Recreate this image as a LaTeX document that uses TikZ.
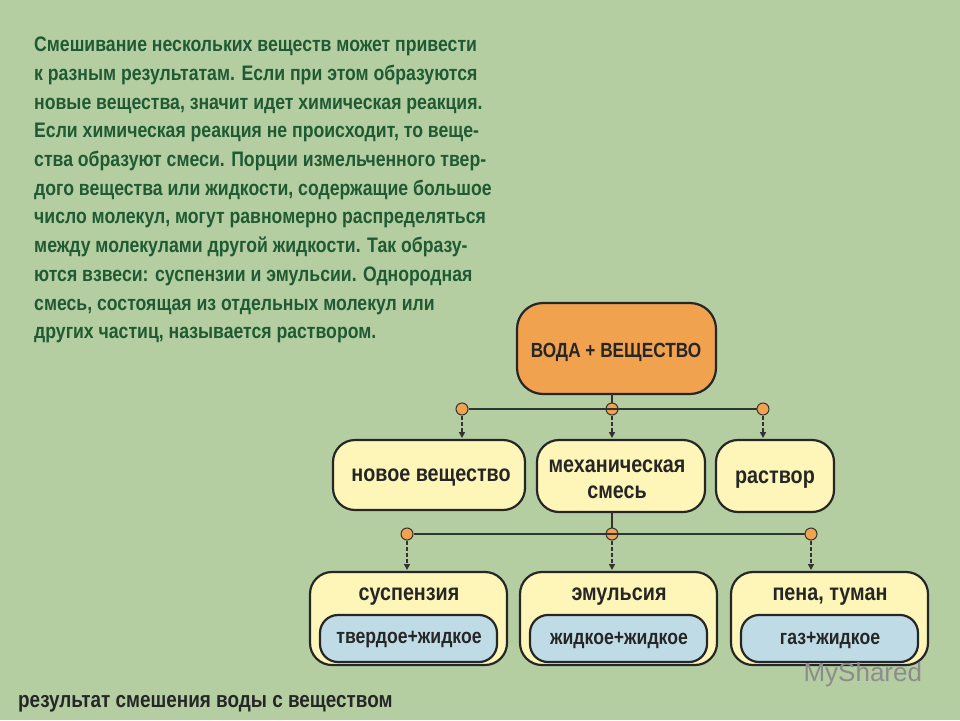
\documentclass[tikz,border=0pt]{standalone}
\usepackage{fontspec}
\setmainfont{Liberation Sans}
\usetikzlibrary{arrows.meta}
\definecolor{bg}{HTML}{B4CEA2}
\definecolor{txt}{HTML}{1F5A33}
\definecolor{org}{HTML}{F0A24E}
\definecolor{yel}{HTML}{FDF6B8}
\definecolor{blu}{HTML}{BFDCE6}
\tikzset{
 box/.style={draw=black!85,line width=2.2pt,rounded corners=22pt},
 lbl/.style={font=\bfseries\fontsize{23.5}{26}\selectfont,text=black!85,align=center},
 para/.style={anchor=base west,font=\bfseries\fontsize{21}{24}\selectfont,text=txt},
 dot/.style={circle,draw=black!80,fill=org,inner sep=0pt,minimum size=12pt,line width=1pt},
 bus/.style={draw=black!80,line width=2pt},
 arr/.style={draw=black!80,line width=1.4pt,dashed,dash pattern=on 4pt off 2pt,-{Triangle[length=6pt,width=6pt]}}
}
\newcommand{\cx}[1]{\scalebox{0.84}[1]{#1}}
\begin{document}
\begin{tikzpicture}[x=1pt,y=-1pt]
\fill[bg] (0,0) rectangle (960,720);
\useasboundingbox (0,0) rectangle (960,720);
\foreach \t [count=\i] in {Смешивание нескольких веществ может привести,
к разным результатам. Если при этом образуются,
новые вещества{,} значит идет химическая реакция.,
Если химическая реакция не происходит{,} то веще-,
ства образуют смеси. Порции измельченного твер-,
дого вещества или жидкости{,} содержащие большое,
число молекул{,} могут равномерно распределяться,
между молекулами другой жидкости. Так образу-,
ются взвеси: суспензии и эмульсии. Однородная,
смесь{,} состоящая из отдельных молекул или,
других частиц{,} называется раствором.}
 \node[para,inner sep=0pt] (p\i) at (34,{23+28.7*\i}) {\cx{\t}};
% top
\draw[box,fill=org,rounded corners=26pt] (517,303) rectangle (716,394);
\node[lbl,font=\bfseries\fontsize{20.5}{23}\selectfont] (top) at (616,352) {\cx{ВОДА + ВЕЩЕСТВО}};
\coordinate (t0) at (612,394);
\node[dot] (d1) at (462,409) {};
\node[dot] (d2) at (612,409) {};
\node[dot] (d3) at (763,409) {};
\draw[bus] (d1) -- (d3);
\draw[bus] (t0) -- (d2);
% middle
\draw[box,fill=yel] (333,440) rectangle (525,510);
\draw[box,fill=yel] (537,440) rectangle (705,512);
\draw[box,fill=yel] (716,440) rectangle (834,512);
\node[lbl] (m1) at (431,478) {\cx{новое вещество}};
\node[lbl,font=\bfseries\fontsize{23.5}{26}\selectfont] (m2) at (617,479) {\cx{механическая}\\\cx{смесь}};
\node[lbl] (m3) at (775,480) {\cx{раствор}};
\coordinate (a1) at (462,438);
\coordinate (a2) at (612,438);
\coordinate (a3) at (763,438);
\draw[arr] (d1) -- (a1);
\draw[arr] (d2) -- (a2);
\draw[arr] (d3) -- (a3);
\coordinate (m0) at (612,512);
\node[dot] (e1) at (407,534) {};
\node[dot] (e2) at (612,534) {};
\node[dot] (e3) at (811,534) {};
\draw[bus] (e1) -- (e3);
\draw[bus] (m0) -- (e2);
\coordinate (b1) at (407,570);
\coordinate (b2) at (612,570);
\coordinate (b3) at (811,570);
\draw[arr] (e1) -- (b1);
\draw[arr] (e2) -- (b2);
\draw[arr] (e3) -- (b3);
% bottom
\foreach \x/\a/\b [count=\i] in {310/суспензия/твердое+жидкое,520/эмульсия/жидкое+жидкое,731/{пена, туман}/газ+жидкое}{
 \draw[box,fill=yel] (\x,572) rectangle (\x+197,665);
 \draw[box,fill=blu,rounded corners=18pt] (\x+10,615) rectangle (\x+187,662);
 \node[lbl] (y\i) at (\x+99,597) {\cx{\a}};
 \node[lbl,font=\bfseries\fontsize{21}{23}\selectfont] (z\i) at (\x+99,640) {\cx{\b}};
}
\node[anchor=west,font=\fontsize{26}{28}\selectfont,text=gray!90] (ms) at (800,675) {MyShared};
\node[anchor=west,font=\bfseries\fontsize{22.5}{24}\selectfont,text=black!85,inner sep=0pt] (cap) at (18,704) {\cx{результат смешения воды с веществом}};
\end{tikzpicture}
\end{document}
